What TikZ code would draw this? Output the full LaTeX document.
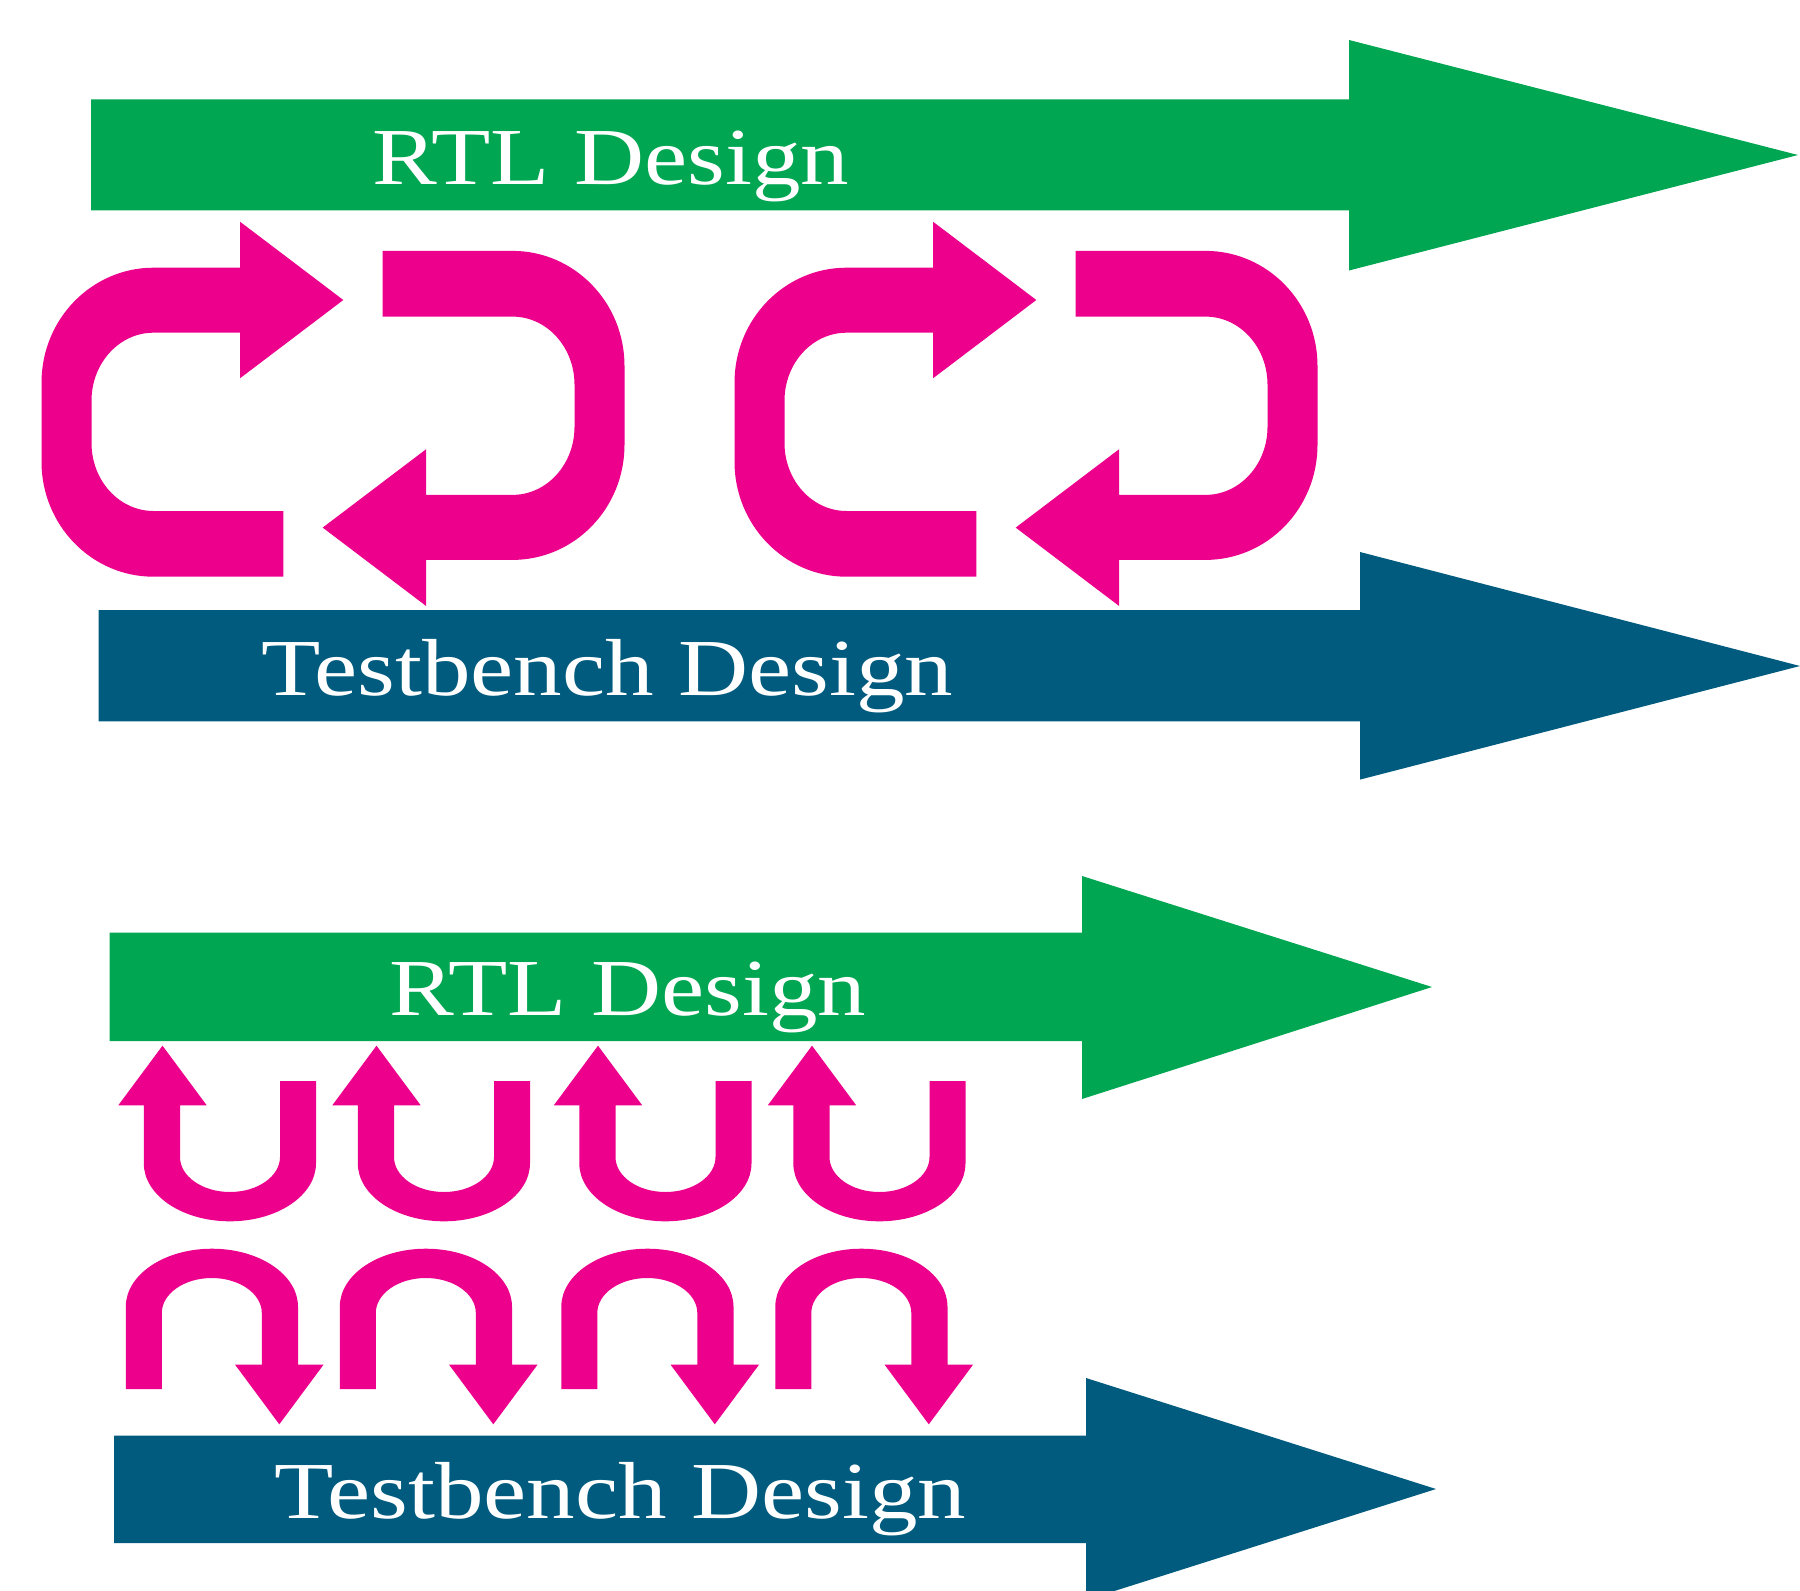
\documentclass[tikz,border=0pt]{standalone}
\usepackage{fontspec}
\setmainfont{Liberation Serif}
\usepackage{graphicx}
\usepackage{xcolor}
\definecolor{rtlgreen}{RGB}{0,166,81}
\definecolor{tbblue}{RGB}{1,91,126}
\definecolor{loopmag}{RGB}{236,0,140}

\begin{document}
\begin{tikzpicture}[x=0.01cm,y=-0.01cm,
 lbl/.style={text=white,inner sep=0pt,anchor=base west,font=\fontsize{23}{27}\selectfont},
 cyc/.pic={\fill[loopmag] (-93,-146.1) -- (-93,-192.1) -- (10.3,-113.8) -- (-93,-35.5)
   -- (-93,-81.1) -- (-179.5,-81.1) arc[start angle=270,end angle=180,x radius=62,y radius=68]
   -- (-241.5,29.2) arc[start angle=180,end angle=90,x radius=62,y radius=68]
   -- (-49.7,97.2) -- (-49.7,162.9) -- (-179.5,162.9)
   arc[start angle=90,end angle=180,x radius=112,y radius=115]
   -- (-291.5,-31.1) arc[start angle=180,end angle=270,x radius=112,y radius=115] -- cycle;},
 uturn/.pic={\fill[loopmag] (59.1,-154) -- (95.1,-154) -- (95.1,-71.7)
   arc[start angle=0,end angle=180,x radius=86.1,y radius=58]
   -- (-77.1,-129.7) -- (-102.6,-129.7) -- (-58.4,-189.3) -- (-14.2,-129.7)
   -- (-40.9,-129.7) -- (-40.9,-78) arc[start angle=180,end angle=0,x radius=50,y radius=35]
   -- cycle;}]

  \useasboundingbox (0,0) rectangle (1800,1591);
  \clip (0,0) rectangle (1800,1591);

  % upper flow
  \fill[rtlgreen] (91,99.5) -- (1349,99.5) -- (1349,40) -- (1798,155)
   -- (1349,270.5) -- (1349,210.5) -- (91,210.5) -- cycle;
  \node[lbl] (rtlA) at (372,184.7) {\scalebox{1.2}[1]{RTL Design}};

  \fill[tbblue] (98.7,610) -- (1360,610) -- (1360,552) -- (1800,666)
   -- (1360,779.6) -- (1360,721.4) -- (98.7,721.4) -- cycle;
  \node[lbl] (tbA) at (261,695) {\scalebox{1.2}[1]{Testbench Design}};

  \foreach \X in {0,693}
  {\pic at (333+\X,413.8) {cyc};
   \pic[rotate=180] at (333+\X,413.8) {cyc};
  }

  % lower flow
  \fill[rtlgreen] (109.7,932.5) -- (1082,932.5) -- (1082,876) -- (1432,987)
   -- (1082,1099) -- (1082,1041) -- (109.7,1041) -- cycle;
  \node[lbl] (rtlB) at (389,1015.4) {\scalebox{1.2}[1]{RTL Design}};

  \fill[tbblue] (114,1435.5) -- (1086,1435.5) -- (1086,1378) -- (1436,1489)
   -- (1086,1600) -- (1086,1543) -- (114,1543) -- cycle;
  \node[lbl] (tbB) at (274,1518.7) {\scalebox{1.2}[1]{Testbench Design}};

  \foreach \X in {0,214,435.5,649.5}
  {\pic at (220.9+\X,1235) {uturn};
   \pic[rotate=180] at (220.9+\X,1235) {uturn};
  }

\end{tikzpicture}
\end{document}
